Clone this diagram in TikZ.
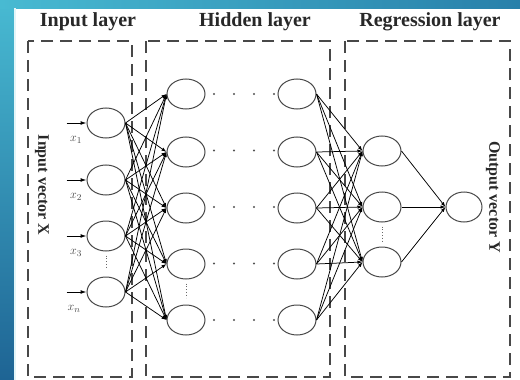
\documentclass[tikz,border=0pt]{standalone}
\usepackage{fontspec}
\setmainfont{Liberation Serif}
\usetikzlibrary{shapes.geometric,arrows.meta}
\definecolor{frameA}{RGB}{72,186,210}
\definecolor{frameB}{RGB}{30,100,148}
\definecolor{frameC}{RGB}{40,128,170}
\definecolor{ink}{RGB}{40,40,40}
\tikzset{
  neuron/.style={ellipse,draw=ink!85,line width=1pt,minimum width=38pt,minimum height=30pt,inner sep=0pt},
  layerbox/.style={draw=ink!85,line width=1.3pt,dash pattern=on 12pt off 7pt},
  title/.style={font=\fontsize{20}{22}\selectfont\bfseries,text=ink},
  sidetitle/.style={font=\fontsize{16}{18}\selectfont\bfseries,text=ink,rotate=-90},
  link/.style={draw=black,line width=0.75pt,-{Latex[length=5pt,width=3.5pt]}},
  feed/.style={draw=black,line width=1pt,-{Latex[length=6pt,width=4pt]}},
  inlabel/.style={font=\fontsize{13}{15}\selectfont,text=ink!85},
  dot/.style={circle,fill=ink!80,inner sep=0pt,minimum size=2.2pt},
}
\begin{document}
\begin{tikzpicture}[x=1pt,y=-1pt]
\useasboundingbox (0,0) rectangle (520,380);
% page and blue frame strips
\fill[white] (0,0) rectangle (520,380);
\shade[top color=frameA,bottom color=frameB] (0,0) rectangle (14,380);
\shade[left color=frameA,right color=frameC] (0,0) rectangle (520,8);
\fill[white!85!frameA] (14,8) rectangle (15.5,380);

% layer titles
\node[title] (tin) at (88,22) {Input layer};
\node[title] (thid) at (255,22) {Hidden layer};
\node[title] (treg) at (430,22) {Regression layer};

% dashed layer frames
\draw[layerbox] (28,41) rectangle (132,377);
\draw[layerbox] (146,41) rectangle (330,377);
\draw[layerbox] (345,41) rectangle (510,377);

\node[sidetitle] (vx) at (42,185) {Input vector X};
\node[sidetitle] (vy) at (493,197) {Output vector Y};

% input neurons
\foreach \i/\y in {1/123,2/180,3/236,4/292}
  \node[neuron] (i\i) at (106,\y) {};
% hidden neurons, first and last column
\foreach \j/\y in {1/94,2/152,3/208,4/264,5/320}{
  \node[neuron] (a\j) at (186,\y) {};
  \node[neuron] (b\j) at (297,\y) {};
}
% regression neurons
\foreach \k/\y in {1/151,2/207,3/262}
  \node[neuron] (r\k) at (382,\y) {};
\node[neuron,minimum width=36pt] (o) at (464,207) {};

% input labels and feeding arrows
\foreach \i/\lab in {1/x_1,2/x_2,3/x_3}
  \node[inlabel] (l\i) at ([xshift=-30pt,yshift=-17pt]i\i.center) {$\lab$};
\node[inlabel] (l4) at ([xshift=-32pt,yshift=-17pt]i4.center) {$x_n$};
\foreach \i in {1,...,4}{
  \coordinate (s\i) at ([xshift=-20pt]i\i.west);
  \draw[feed] (s\i) -- (i\i.west);
}

% full connections input -> hidden
\foreach \i in {1,...,4}
  \foreach \j in {1,...,5}
    \draw[link] (i\i.east) -- (a\j.west);
% full connections hidden -> regression
\foreach \j in {1,...,5}
  \foreach \k in {1,...,3}
    \draw[link] (b\j.east) -- (r\k.west);
% regression -> output
\foreach \k in {1,...,3}
  \draw[link] (r\k.east) -- (o.west);

% ellipsis dots between hidden columns
\foreach \j in {1,...,5}
  \foreach \x in {214,234,254,274}
    \node[dot] (d\j\x) at (\x,{94+(\j-1)*56.5}) {};

% vertical ellipses
\draw[ink!70,line width=0.8pt,dotted] (i3.south) ++(0,4) coordinate (v1) -- ++(0,12) coordinate (v2);
\draw[ink!70,line width=0.8pt,dotted] (a4.south) ++(0,4) coordinate (v3) -- ++(0,14) coordinate (v4);
\draw[ink!70,line width=0.8pt,dotted] (r2.south) ++(0,4) coordinate (v5) -- ++(0,16) coordinate (v6);
\end{tikzpicture}
\end{document}
